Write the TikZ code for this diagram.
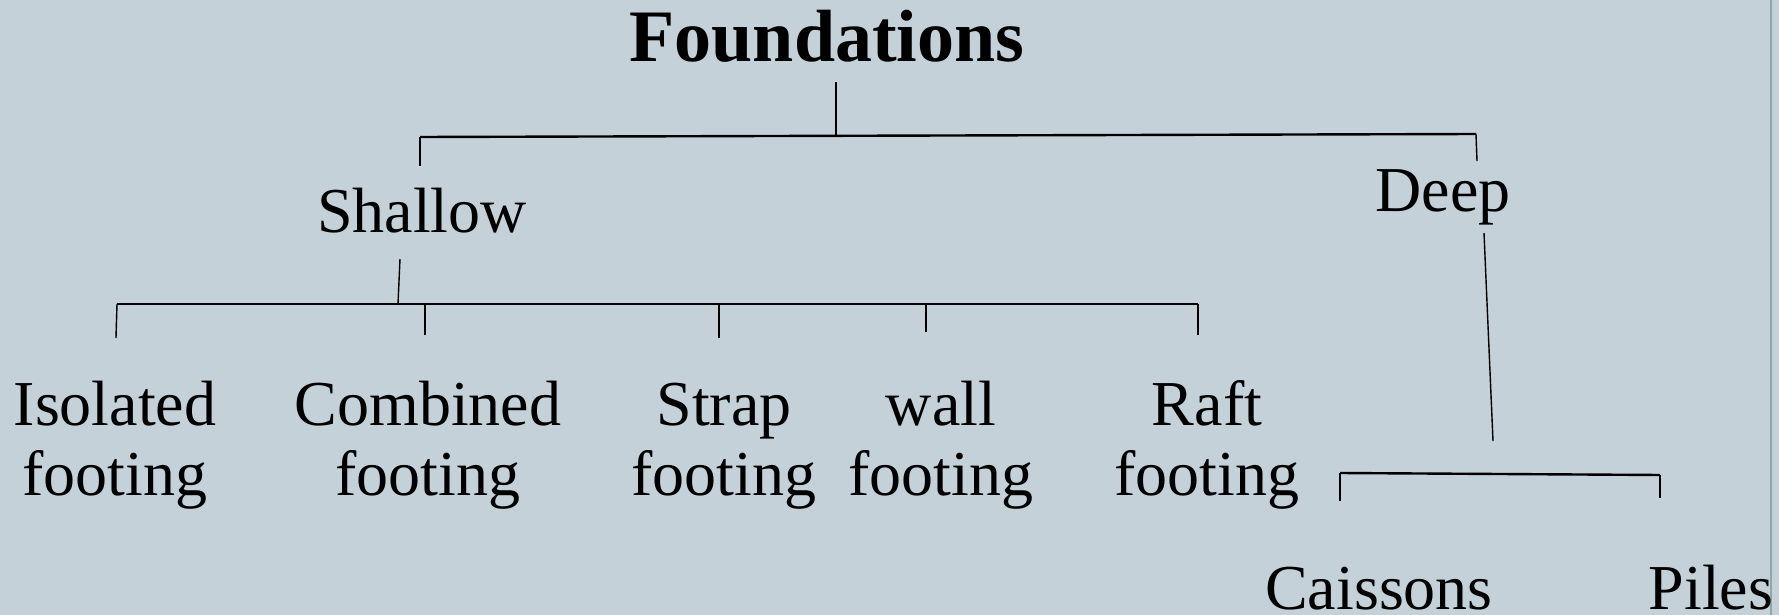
\documentclass[tikz,border=0pt]{standalone}
\usepackage{fontspec}
\setmainfont{Liberation Serif}
\definecolor{slide}{HTML}{C5D1D8}
\definecolor{slideedge}{HTML}{8FA8A8}
\begin{document}
\begin{tikzpicture}[x=0.5pt, y=-0.5pt,
    title/.style ={anchor=base, inner sep=0pt, font=\fontsize{37}{40}\selectfont\bfseries},
    kind/.style ={anchor=base, align=center, inner sep=0pt, font=\fontsize{32}{35}\selectfont},
    bar/.style ={line width=1.2pt},
    tick/.style ={line width=0.7pt}]
   \useasboundingbox (0,0) rectangle (1779,615);
   \fill[slide] (0,0) rectangle (1779,615);
   \draw[slideedge, line width=0.8pt] (1771,0) -- (1771,615);
   % labels
   \node[title] (found) at (827,62) {Foundations};
   \node[kind] (shallow) at (422,233) {Shallow};
   \node[kind] (deep) at (1443,212) {Deep};
   \node[kind] (iso) at (115,495) {Isolated\\footing};
   \node[kind] (comb) at (428,495) {Combined\\footing};
   \node[kind] (strap) at (724,495) {Strap\\footing};
   \node[kind] (wall) at (941,495) {wall\\footing};
   \node[kind] (raft) at (1207,495) {Raft\\footing};
   \node[kind] (cais) at (1379,609) {Caissons};
   \node[kind] (piles) at (1711,609) {Piles};
   % joints
   \coordinate (f-top) at (836,82);
   \coordinate (f-mid) at (836,136);
   \coordinate (b1-l) at (420,137);
   \coordinate (b1-r) at (1476,134);
   \coordinate (s-in) at (420,166);
   \coordinate (d-in) at (1477,161);
   \coordinate (s-top) at (400,259);
   \coordinate (s-mid) at (398,304);
   \coordinate (b2-l) at (117,304);
   \coordinate (b2-r) at (1198,304);
   \coordinate (b2-2) at (425,304);
   \coordinate (b2-3) at (719,304);
   \coordinate (b2-4) at (926,304);
   \coordinate (i-in) at (116,338);
   \coordinate (c-in) at (425,335);
   \coordinate (t-in) at (719,338);
   \coordinate (w-in) at (926,332);
   \coordinate (r-in) at (1198,335);
   \coordinate (d-top) at (1484,233);
   \coordinate (d-bot) at (1493,441);
   \coordinate (b3-l) at (1340,473);
   \coordinate (b3-r) at (1660,475);
   \coordinate (ca-in) at (1340,501);
   \coordinate (p-in) at (1660,498);
   % tree
   \draw[tick] (f-top) -- (f-mid);
   \draw[bar] (b1-l) -- (b1-r);
   \draw[tick] (b1-l) -- (s-in);
   \draw[tick] (b1-r) -- (d-in);
   \draw[tick] (s-top) -- (s-mid);
   \draw[bar] (b2-l) -- (b2-r);
   \draw[tick] (b2-l) -- (i-in);
   \draw[tick] (b2-2) -- (c-in);
   \draw[tick] (b2-3) -- (t-in);
   \draw[tick] (b2-4) -- (w-in);
   \draw[tick] (b2-r) -- (r-in);
   \draw[tick] (d-top) -- (d-bot);
   \draw[bar] (b3-l) -- (b3-r);
   \draw[tick] (b3-l) -- (ca-in);
   \draw[tick] (b3-r) -- (p-in);
 \end{tikzpicture}
\end{document}
